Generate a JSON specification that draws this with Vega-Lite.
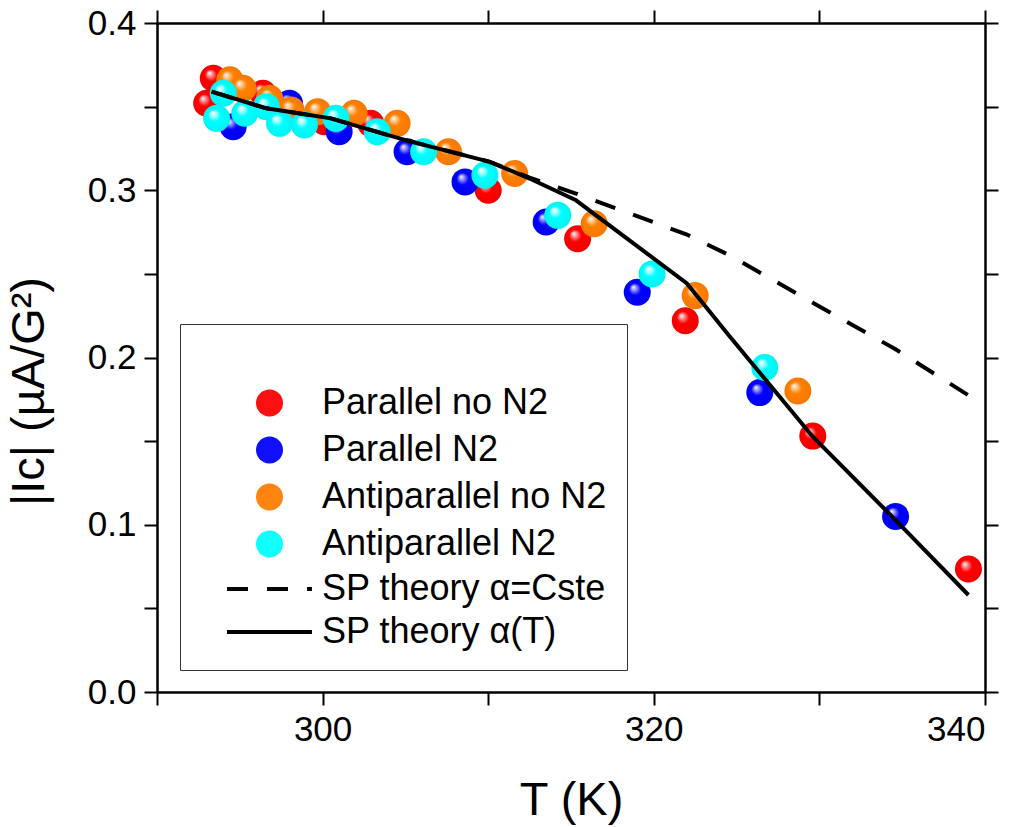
{
  "$schema": "https://vega.github.io/schema/vega-lite/v6.json",
  "width": 828,
  "height": 669,
  "autosize": {"type": "none"},
  "padding": {"left": 157, "top": 23, "right": 38, "bottom": 135},
  "background": "white",
  "config": {
    "view": {"stroke": null},
    "font": "Liberation Sans",
    "axis": {
      "grid": false,
      "domainColor": "black",
      "domainWidth": 2.5,
      "tickColor": "black",
      "tickWidth": 2,
      "tickSize": 13,
      "labelColor": "black",
      "labelFont": "Liberation Sans",
      "labelFontSize": 35,
      "titleFont": "Liberation Sans",
      "titleFontSize": 47,
      "titleFontWeight": "normal",
      "titleColor": "black"
    }
  },
  "datasets": {
    "pts": [
      {"series": "Parallel no N2", "T": 293.4, "I": 0.367},
      {"series": "Parallel no N2", "T": 293.0, "I": 0.352},
      {"series": "Parallel no N2", "T": 296.4, "I": 0.358},
      {"series": "Parallel no N2", "T": 300.1, "I": 0.341},
      {"series": "Parallel no N2", "T": 302.9, "I": 0.340},
      {"series": "Parallel no N2", "T": 310.0, "I": 0.300},
      {"series": "Parallel no N2", "T": 315.4, "I": 0.271},
      {"series": "Parallel no N2", "T": 321.9, "I": 0.222},
      {"series": "Parallel no N2", "T": 329.6, "I": 0.153},
      {"series": "Parallel no N2", "T": 339.0, "I": 0.0735},
      {"series": "Parallel N2", "T": 294.6, "I": 0.338},
      {"series": "Parallel N2", "T": 298.0, "I": 0.352},
      {"series": "Parallel N2", "T": 301.0, "I": 0.335},
      {"series": "Parallel N2", "T": 305.1, "I": 0.323},
      {"series": "Parallel N2", "T": 308.6, "I": 0.305},
      {"series": "Parallel N2", "T": 313.5, "I": 0.281},
      {"series": "Parallel N2", "T": 319.0, "I": 0.239},
      {"series": "Parallel N2", "T": 326.4, "I": 0.179},
      {"series": "Parallel N2", "T": 334.6, "I": 0.105},
      {"series": "Antiparallel no N2", "T": 294.4, "I": 0.366},
      {"series": "Antiparallel no N2", "T": 295.2, "I": 0.361},
      {"series": "Antiparallel no N2", "T": 296.8, "I": 0.355},
      {"series": "Antiparallel no N2", "T": 298.1, "I": 0.348},
      {"series": "Antiparallel no N2", "T": 299.7, "I": 0.347},
      {"series": "Antiparallel no N2", "T": 301.9, "I": 0.346},
      {"series": "Antiparallel no N2", "T": 304.5, "I": 0.340},
      {"series": "Antiparallel no N2", "T": 307.6, "I": 0.323},
      {"series": "Antiparallel no N2", "T": 311.6, "I": 0.310},
      {"series": "Antiparallel no N2", "T": 316.4, "I": 0.280},
      {"series": "Antiparallel no N2", "T": 322.5, "I": 0.237},
      {"series": "Antiparallel no N2", "T": 328.7, "I": 0.180},
      {"series": "Antiparallel N2", "T": 293.6, "I": 0.343},
      {"series": "Antiparallel N2", "T": 294.0, "I": 0.358},
      {"series": "Antiparallel N2", "T": 295.3, "I": 0.346},
      {"series": "Antiparallel N2", "T": 296.6, "I": 0.350},
      {"series": "Antiparallel N2", "T": 297.4, "I": 0.340},
      {"series": "Antiparallel N2", "T": 298.9, "I": 0.339},
      {"series": "Antiparallel N2", "T": 300.8, "I": 0.343},
      {"series": "Antiparallel N2", "T": 303.3, "I": 0.335},
      {"series": "Antiparallel N2", "T": 306.1, "I": 0.323},
      {"series": "Antiparallel N2", "T": 309.8, "I": 0.309},
      {"series": "Antiparallel N2", "T": 314.2, "I": 0.285},
      {"series": "Antiparallel N2", "T": 319.9, "I": 0.250},
      {"series": "Antiparallel N2", "T": 326.7, "I": 0.194}
    ],
    "theory": [
      {"series": "SP theory α=Cste", "T": 293.3, "I": 0.359},
      {"series": "SP theory α=Cste", "T": 296.6, "I": 0.349},
      {"series": "SP theory α=Cste", "T": 300.5, "I": 0.343},
      {"series": "SP theory α=Cste", "T": 305.0, "I": 0.330},
      {"series": "SP theory α=Cste", "T": 310.1, "I": 0.317},
      {"series": "SP theory α=Cste", "T": 312.5, "I": 0.3075},
      {"series": "SP theory α=Cste", "T": 315.3, "I": 0.298},
      {"series": "SP theory α=Cste", "T": 322.0, "I": 0.2735},
      {"series": "SP theory α=Cste", "T": 324.6, "I": 0.261},
      {"series": "SP theory α=Cste", "T": 329.6, "I": 0.2328},
      {"series": "SP theory α=Cste", "T": 334.6, "I": 0.2049},
      {"series": "SP theory α=Cste", "T": 339.0, "I": 0.1774},
      {"series": "SP theory α(T)", "T": 293.3, "I": 0.359},
      {"series": "SP theory α(T)", "T": 296.6, "I": 0.349},
      {"series": "SP theory α(T)", "T": 300.5, "I": 0.343},
      {"series": "SP theory α(T)", "T": 305.0, "I": 0.330},
      {"series": "SP theory α(T)", "T": 310.1, "I": 0.317},
      {"series": "SP theory α(T)", "T": 312.5, "I": 0.307},
      {"series": "SP theory α(T)", "T": 315.3, "I": 0.294},
      {"series": "SP theory α(T)", "T": 322.0, "I": 0.2443},
      {"series": "SP theory α(T)", "T": 324.6, "I": 0.2124},
      {"series": "SP theory α(T)", "T": 329.6, "I": 0.1526},
      {"series": "SP theory α(T)", "T": 334.6, "I": 0.1028},
      {"series": "SP theory α(T)", "T": 339.0, "I": 0.058}
    ]
  },
  "layer": [
    {
      "data": {"name": "theory"},
      "mark": {"type": "line", "opacity": 0},
      "encoding": {
        "x": {"field": "T", "type": "quantitative", "scale": {"domain": [290, 340], "nice": false, "zero": false},
          "axis": {"orient": "top", "title": null, "labels": false, "values": [290, 300, 310, 320, 330, 340],
            "encode": {"ticks": {"update": {"y2": {"signal": "datum.value % 20 == 0 ? 13 : 7"}}}}}},
        "y": {"field": "I", "type": "quantitative", "scale": {"domain": [0, 0.4], "nice": false, "zero": false},
          "axis": {"orient": "right", "title": null, "labels": false, "values": [0, 0.05, 0.1, 0.15, 0.2, 0.25, 0.3, 0.35, 0.4],
            "encode": {"ticks": {"update": {"x2": {"signal": "round(datum.value * 100) % 10 == 0 ? -13 : -7"}}}}}}
      }
    },
    {
      "data": {"name": "pts"},
      "transform": [{"filter": "datum.series == 'Parallel no N2'"}],
      "mark": {"type": "point", "filled": true, "size": 729, "opacity": 1, "strokeWidth": 0,
        "fill": {"gradient": "radial", "x1": 0.35, "y1": 0.3, "r1": 0, "x2": 0.5, "y2": 0.5, "r2": 0.5, "stops": [{"offset": 0, "color": "#ffffff"}, {"offset": 0.22, "color": "#ff8080"}, {"offset": 0.45, "color": "#ff0000"}, {"offset": 1, "color": "#f20000"}]}},
      "encoding": {
        "x": {"field": "T", "type": "quantitative",
          "axis": {"orient": "bottom", "title": "T (K)", "values": [290, 300, 310, 320, 330, 340],
            "labelExpr": "datum.value % 20 == 0 ? datum.label : ''", "labelPadding": 7, "titlePadding": 30,
            "encode": {"ticks": {"update": {"y2": {"signal": "datum.value % 20 == 0 ? 13 : 7"}}}}}},
        "y": {"field": "I", "type": "quantitative",
          "axis": {"orient": "left", "title": "|Ic| (µA/G²)", "values": [0, 0.05, 0.1, 0.15, 0.2, 0.25, 0.3, 0.35, 0.4],
            "labelExpr": "round(datum.value * 100) % 10 == 0 ? format(datum.value, '.1f') : ''",
            "labelPadding": 8, "titlePadding": 34, "titleY": 368,
            "encode": {"ticks": {"update": {"x2": {"signal": "round(datum.value * 100) % 10 == 0 ? -13 : -7"}}}}}}
      }
    },
    {
      "data": {"name": "pts"},
      "transform": [{"filter": "datum.series == 'Parallel N2'"}],
      "mark": {"type": "point", "filled": true, "size": 729, "opacity": 1, "strokeWidth": 0,
        "fill": {"gradient": "radial", "x1": 0.35, "y1": 0.3, "r1": 0, "x2": 0.5, "y2": 0.5, "r2": 0.5, "stops": [{"offset": 0, "color": "#ffffff"}, {"offset": 0.22, "color": "#8080ff"}, {"offset": 0.45, "color": "#0000ff"}, {"offset": 1, "color": "#0000f0"}]}},
      "encoding": {
        "x": {"field": "T", "type": "quantitative", "axis": null},
        "y": {"field": "I", "type": "quantitative", "axis": null}
      }
    },
    {
      "data": {"name": "pts"},
      "transform": [{"filter": "datum.series == 'Antiparallel no N2'"}],
      "mark": {"type": "point", "filled": true, "size": 729, "opacity": 1, "strokeWidth": 0,
        "fill": {"gradient": "radial", "x1": 0.35, "y1": 0.3, "r1": 0, "x2": 0.5, "y2": 0.5, "r2": 0.5, "stops": [{"offset": 0, "color": "#ffffff"}, {"offset": 0.22, "color": "#ffc080"}, {"offset": 0.45, "color": "#ff8000"}, {"offset": 1, "color": "#f87800"}]}},
      "encoding": {
        "x": {"field": "T", "type": "quantitative", "axis": null},
        "y": {"field": "I", "type": "quantitative", "axis": null}
      }
    },
    {
      "data": {"name": "pts"},
      "transform": [{"filter": "datum.series == 'Antiparallel N2'"}],
      "mark": {"type": "point", "filled": true, "size": 729, "opacity": 1, "strokeWidth": 0,
        "fill": {"gradient": "radial", "x1": 0.35, "y1": 0.3, "r1": 0, "x2": 0.5, "y2": 0.5, "r2": 0.5, "stops": [{"offset": 0, "color": "#ffffff"}, {"offset": 0.22, "color": "#a0ffff"}, {"offset": 0.45, "color": "#00ffff"}, {"offset": 1, "color": "#00f4f4"}]}},
      "encoding": {
        "x": {"field": "T", "type": "quantitative", "axis": null},
        "y": {"field": "I", "type": "quantitative", "axis": null}
      }
    },
    {
      "data": {"name": "theory"},
      "transform": [{"filter": "datum.series == 'SP theory α=Cste'"}],
      "mark": {"type": "line", "strokeDash": [21, 19], "strokeWidth": 4, "color": "black"},
      "encoding": {
        "x": {"field": "T", "type": "quantitative", "axis": null},
        "y": {"field": "I", "type": "quantitative", "axis": null}
      }
    },
    {
      "data": {"name": "theory"},
      "transform": [{"filter": "datum.series == 'SP theory α(T)'"}],
      "mark": {"type": "line", "strokeWidth": 4, "color": "black"},
      "encoding": {
        "x": {"field": "T", "type": "quantitative", "axis": null},
        "y": {"field": "I", "type": "quantitative", "axis": null}
      }
    },
    {
      "data": {"name": "pts"},
      "transform": [{"filter": "false"}],
      "mark": {"type": "point", "filled": true, "opacity": 1, "strokeWidth": 4},
      "encoding": {
        "x": {"field": "T", "type": "quantitative", "axis": null},
        "y": {"field": "I", "type": "quantitative", "axis": null},
        "color": {
          "field": "series", "type": "nominal",
          "scale": {
            "domain": ["Parallel no N2", "Parallel N2", "Antiparallel no N2", "Antiparallel N2", "SP theory α=Cste", "SP theory α(T)"],
            "range": ["#ff1010", "#1010ff", "#ff8510", "#10ffff", "black", "black"]
          },
          "legend": {
            "orient": "none", "legendX": 23, "legendY": 301,
            "title": " ", "titleFontSize": 26, "titlePadding": 15,
            "padding": 20, "strokeColor": "#333333", "fillColor": "white",
            "symbolSize": 729, "symbolStrokeWidth": 4, "symbolOpacity": 1,
            "labelFont": "Liberation Sans", "labelFontSize": 36, "labelColor": "black", "labelOffset": 86, "labelLimit": 700,
            "rowPadding": 7
          }
        },
        "stroke": {
          "field": "series", "type": "nominal",
          "scale": {
            "domain": ["Parallel no N2", "Parallel N2", "Antiparallel no N2", "Antiparallel N2", "SP theory α=Cste", "SP theory α(T)"],
            "range": ["#ff1010", "#1010ff", "#ff8510", "#10ffff", "black", "black"]
          }
        },
        "shape": {
          "field": "series", "type": "nominal",
          "scale": {
            "domain": ["Parallel no N2", "Parallel N2", "Antiparallel no N2", "Antiparallel N2", "SP theory α=Cste", "SP theory α(T)"],
            "range": [
              "M4.665,0A0.85,0.85,0,1,1,2.965,0A0.85,0.85,0,1,1,4.665,0Z",
              "M4.665,0A0.85,0.85,0,1,1,2.965,0A0.85,0.85,0,1,1,4.665,0Z",
              "M4.665,0A0.85,0.85,0,1,1,2.965,0A0.85,0.85,0,1,1,4.665,0Z",
              "M4.665,0A0.85,0.85,0,1,1,2.965,0A0.85,0.85,0,1,1,4.665,0Z",
              "M0.667,0L6.96,0",
              "M0.667,0L6.96,0"
            ]
          }
        },
        "strokeDash": {
          "field": "series", "type": "nominal",
          "scale": {
            "domain": ["Parallel no N2", "Parallel N2", "Antiparallel no N2", "Antiparallel N2", "SP theory α=Cste", "SP theory α(T)"],
            "range": [[1, 0], [1, 0], [1, 0], [1, 0], [21, 19], [1, 0]]
          }
        }
      }
    }
  ],
  "resolve": {"axis": {"x": "independent", "y": "independent"}}
}
